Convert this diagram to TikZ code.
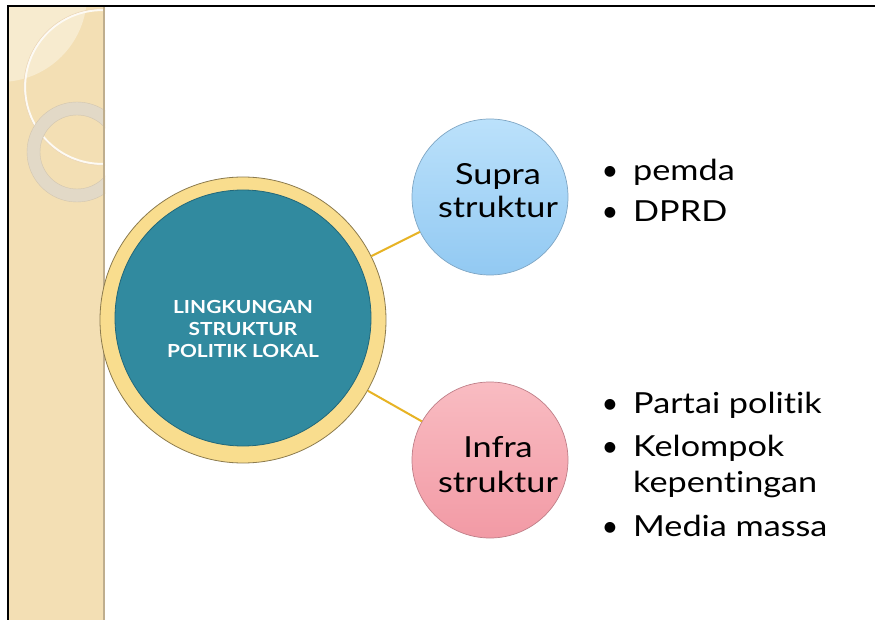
\documentclass[tikz,border=0pt]{standalone}
\usepackage{fontspec}
\setmainfont{Lato}
\newfontfamily\gillbig[FakeStretch=1.18,Ligatures={NoCommon,NoRequired,NoContextual,NoDiscretionary}]{Lato}
\newfontfamily\gillbold[FakeStretch=1.16,Ligatures={NoCommon,NoRequired,NoContextual,NoDiscretionary}]{Lato Bold}
\definecolor{side}{HTML}{F3DFB4}
\definecolor{sidelight}{HTML}{F7EBCF}
\definecolor{ringc}{HTML}{E2D9C7}
\definecolor{sideedge}{HTML}{BFAE8E}
\definecolor{ylw}{HTML}{F9DD8E}
\definecolor{ylwedge}{HTML}{8C7B4E}
\definecolor{teal}{HTML}{318A9F}
\definecolor{tealedge}{HTML}{22687A}
\definecolor{conncol}{HTML}{E7B324}
\definecolor{bluetop}{HTML}{BBE1FB}
\definecolor{bluebot}{HTML}{92C9F2}
\definecolor{blueedge}{HTML}{7FA6C4}
\definecolor{pinktop}{HTML}{F9BCC2}
\definecolor{pinkbot}{HTML}{F29AA5}
\definecolor{pinkedge}{HTML}{BF7F88}
\tikzset{
  outerring/.style={circle, fill=ylw, draw=ylwedge, line width=0.8pt, minimum size=286pt, inner sep=0pt},
  innerdisc/.style={circle, fill=teal, draw=tealedge, line width=0.8pt, minimum size=256pt, inner sep=0pt},
  subcircle/.style={circle, minimum size=156pt, inner sep=0pt, line width=0.7pt},
  conn/.style={draw=conncol, line width=2pt},
  circtext/.style={font=\gillbig\fontsize{29}{29}\selectfont, anchor=base, inner sep=0pt},
  maintext/.style={font=\gillbold\fontsize{18}{18}\selectfont, text=white, anchor=base, inner sep=0pt},
  itemtext/.style={font=\gillbig\fontsize{29}{29}\selectfont, anchor=base west, inner sep=0pt},
  bullettext/.style={font=\fontsize{29}{29}\selectfont, anchor=base, inner sep=0pt}
}
\begin{document}
\begin{tikzpicture}[x=1pt,y=-1pt]
\useasboundingbox (0,0) rectangle (875,620);
\fill[white] (0,0) rectangle (875,620);
% sidebar
\begin{scope}
  \clip (9,7) rectangle (105,620);
  \fill[side] (9,7) rectangle (105,620);
  \fill[sidelight] (0,-5) circle (87);
  \draw[white!85!side, line width=2.2pt] (102,87) circle (77);
  \draw[side!60!brown!60, line width=0.5pt] (102,87) circle (78.2);
  \fill[ringc, even odd rule] (77,152) circle (50) (77,152) circle (37);
  \draw[sideedge!70, line width=0.4pt] (77,152) circle (50) (77,152) circle (37);
\end{scope}
\draw[sideedge, line width=2.5pt] (104,7) -- (104,620);
% frame
\draw[black, line width=2pt] (8,620) -- (8,6) -- (875,6);
% main circle
\node[outerring] (mainouter) at (243,320) {};
\node[innerdisc] (maininner) at (243,318) {};
\node[maintext] (t1) at (243,313) {LINGKUNGAN};
\node[maintext] (t2) at (243,335) {STRUKTUR};
\node[maintext] (t3) at (243,357) {POLITIK LOKAL};
% sub circles
\node[subcircle, top color=bluetop, bottom color=bluebot, draw=blueedge] (supra) at (490,197) {};
\node[subcircle, top color=pinktop, bottom color=pinkbot, draw=pinkedge] (infra) at (490,460) {};
% connectors
\draw[conn] (mainouter) -- (supra);
\draw[conn] (mainouter) -- (infra);
% circle texts
\node[circtext] (s1) at (498,185) {Supra};
\node[circtext] (s2) at (498,218) {struktur};
\node[circtext] (i1) at (498,457) {Infra};
\node[circtext] (i2) at (498,492) {struktur};
% lists
\node[bullettext] (b1) at (610,181) {\textbullet};
\node[itemtext] (l1) at (633,181) {pemda};
\node[bullettext] (b2) at (610,222) {\textbullet};
\node[itemtext] (l2) at (633,222) {DPRD};
\node[bullettext] (b3) at (610,413) {\textbullet};
\node[itemtext] (l3) at (633,413) {Partai politik};
\node[bullettext] (b4) at (610,456) {\textbullet};
\node[itemtext] (l4) at (633,456) {Kelompok};
\node[itemtext] (l5) at (633,492) {kepentingan};
\node[bullettext] (b5) at (610,536) {\textbullet};
\node[itemtext] (l6) at (633,536) {Media massa};
\end{tikzpicture}
\end{document}
